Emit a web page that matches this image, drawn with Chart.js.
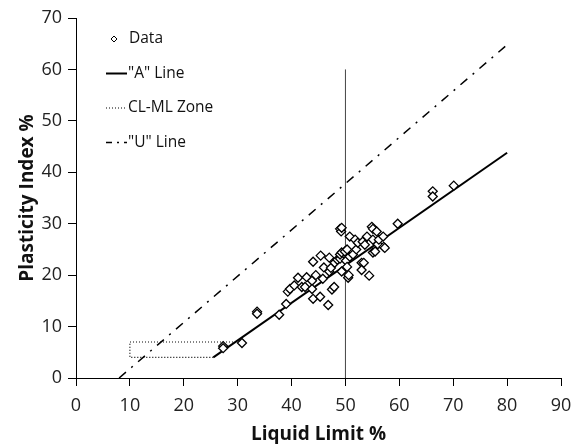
<!DOCTYPE html>
<html>
<head>
<meta charset="utf-8">
<script src="https://cdn.jsdelivr.net/npm/chart.js@4"></script>
<style>
  html, body { margin: 0; padding: 0; background: #fff; }
  #wrap { position: relative; width: 573px; height: 444px; }
</style>
</head>
<body>
<div id="wrap"><canvas id="plasticity-chart" width="573" height="444"></canvas></div>
<script>
// soil samples: liquid limit vs plasticity index
const sampleLL = [27.3, 27.3, 30.8, 33.6, 33.6, 37.7, 39.0, 39.3, 39.7, 40.5, 41.2, 41.9, 42.5, 42.8,
    43.8, 43.8, 44.0, 44.0, 44.5, 45.3, 45.4, 45.8, 46.0, 46.8, 47.0, 47.0, 47.3, 47.5, 47.9, 48.0,
    48.5, 49.0, 49.0, 49.0, 49.2, 49.3, 49.3, 49.3, 49.9, 50.1, 50.3, 50.3, 50.5, 50.6, 50.8, 50.8,
    51.4, 51.8, 52.0, 52.3, 53.0, 53.0, 53.2, 53.4, 53.6, 54.0, 54.4, 54.9, 55.1, 55.1, 55.1, 55.5,
    55.8, 56.0, 56.2, 57.0, 57.1, 57.3, 59.7, 66.2, 66.2, 70.1];
const samplePI = [6.2, 5.8, 6.8, 12.9, 12.5, 12.3, 14.4, 16.8, 17.3, 18.0, 19.5, 17.7, 17.7, 19.6,
    18.9, 17.3, 22.6, 15.4, 20.0, 15.8, 23.8, 19.3, 21.5, 14.2, 23.4, 20.7, 21.4, 17.2, 17.7, 22.4,
    23.0, 23.2, 29.0, 24.0, 28.5, 24.4, 29.2, 20.7, 24.6, 22.8, 25.0, 21.6, 19.5, 20.0, 27.5, 23.6,
    24.0, 26.9, 25.0, 26.3, 22.4, 21.0, 26.5, 22.4, 25.9, 27.5, 19.9, 29.4, 29.0, 26.9, 24.4, 24.6,
    28.5, 26.0, 26.9, 27.5, 25.5, 25.3, 30.0, 36.3, 35.3, 37.4];

// reference lines (LL, PI)
const aLineLL = [25.48, 80];
const aLinePI = [4, 43.8];
const uLineLL = [8, 80];
const uLinePI = [0, 64.8];
const zoneLL = [25.48, 10, 10, 29.59];
const zonePI = [4, 4, 7, 7];
const llDividerLL = [50, 50];
const llDividerPI = [0, 60];

const legendLabels = ['Data', '"A" Line', 'CL-ML Zone', '"U" Line'];

const FONT = '"Open Sans", Lato, sans-serif';

function pts(xs, ys) {
    return xs.map((x, i) => ({x: x, y: ys[i]}));
}

// legend drawn inside the plot, top left
const insideLegend = {
    id: 'insideLegend',
    afterDraw(chart) {
        const ctx = chart.ctx;
        const left = chart.chartArea.left + 30;
        const textX = chart.chartArea.left + 52;
        let y = chart.chartArea.top + 21;
        ctx.save();
        ctx.font = '15.5px ' + FONT;
        ctx.fillStyle = '#111';
        ctx.textBaseline = 'middle';
        legendLabels.forEach((label, i) => {
            ctx.strokeStyle = '#000';
            ctx.setLineDash([]);
            if (i === 0) {
                ctx.lineWidth = 1;
                ctx.beginPath();
                ctx.moveTo(left + 8, y - 3);
                ctx.lineTo(left + 11, y);
                ctx.lineTo(left + 8, y + 3);
                ctx.lineTo(left + 5, y);
                ctx.closePath();
                ctx.stroke();
            } else {
                ctx.beginPath();
                if (i === 1) { ctx.lineWidth = 2; }
                if (i === 2) { ctx.lineWidth = 1.2; ctx.setLineDash([1, 2]); }
                if (i === 3) { ctx.lineWidth = 1.5; ctx.setLineDash([6, 5, 2, 5]); }
                ctx.moveTo(left, y);
                ctx.lineTo(textX - 1, y);
                ctx.stroke();
            }
            ctx.setLineDash([]);
            ctx.fillText(label, i === 0 ? textX + 1 : textX, y);
            y += 34.5;
        });
        ctx.restore();
    }
};

const config = {
    type: 'scatter',
    data: {
        datasets: [
            {
                label: 'Data',
                data: pts(sampleLL, samplePI),
                pointStyle: 'rectRot',
                pointRadius: 4.5,
                pointBorderWidth: 1.3,
                pointBackgroundColor: '#fff',
                pointBorderColor: '#000',
                showLine: false,
                order: 0
            },
            {
                label: '"A" Line',
                data: pts(aLineLL, aLinePI),
                showLine: true,
                borderColor: '#000',
                borderWidth: 2,
                pointRadius: 0,
                order: 1
            },
            {
                label: 'CL-ML Zone',
                data: pts(zoneLL, zonePI),
                showLine: true,
                borderColor: '#000',
                borderWidth: 1.2,
                borderDash: [1, 2],
                pointRadius: 0,
                order: 2
            },
            {
                label: '"U" Line',
                data: pts(uLineLL, uLinePI),
                showLine: true,
                borderColor: '#000',
                borderWidth: 1.5,
                borderDash: [9, 7, 2, 7],
                pointRadius: 0,
                order: 3
            },
            {
                label: 'LL 50',
                data: pts(llDividerLL, llDividerPI),
                showLine: true,
                borderColor: '#444',
                borderWidth: 1,
                pointRadius: 0,
                order: 4
            }
        ]
    },
    options: {
        responsive: false,
        animation: false,
        layout: {
            padding: {top: 18, right: 12, left: 0, bottom: 0}
        },
        plugins: {
            legend: {display: false},
            tooltip: {enabled: false}
        },
        scales: {
            x: {
                type: 'linear',
                min: 0,
                max: 90,
                ticks: {
                    stepSize: 10,
                    color: '#222',
                    font: {family: FONT, size: 18},
                    padding: 9,
                    maxRotation: 0
                },
                grid: {
                    drawOnChartArea: false,
                    drawTicks: true,
                    tickLength: 8,
                    color: '#000'
                },
                border: {display: true, color: '#000', width: 1},
                title: {
                    display: true,
                    text: 'Liquid Limit %',
                    color: '#111',
                    font: {family: FONT, size: 19, weight: 'bold', lineHeight: 1},
                    padding: {top: 0, bottom: 0}
                },
                afterFit: function (scale) {
                    scale.height = 66;
                    scale.paddingLeft = 0;
                    scale.paddingRight = 0;
                }
            },
            y: {
                type: 'linear',
                min: 0,
                max: 70,
                ticks: {
                    stepSize: 10,
                    color: '#222',
                    font: {family: FONT, size: 18},
                    padding: 6
                },
                grid: {
                    drawOnChartArea: false,
                    drawTicks: true,
                    tickLength: 8,
                    color: '#000'
                },
                border: {display: true, color: '#000', width: 1},
                title: {
                    display: true,
                    text: 'Plasticity Index %',
                    color: '#111',
                    font: {family: FONT, size: 19, weight: 'bold', lineHeight: 1},
                    padding: {top: 18, bottom: 0}
                },
                afterFit: function (scale) {
                    scale.width = 76;
                    scale.paddingTop = 0;
                    scale.paddingBottom = 0;
                }
            }
        }
    },
    plugins: [insideLegend]
};

const ctx = document.getElementById('plasticity-chart').getContext('2d');
window.plasticityChart = new Chart(ctx, config);
</script>
</body>
</html>
